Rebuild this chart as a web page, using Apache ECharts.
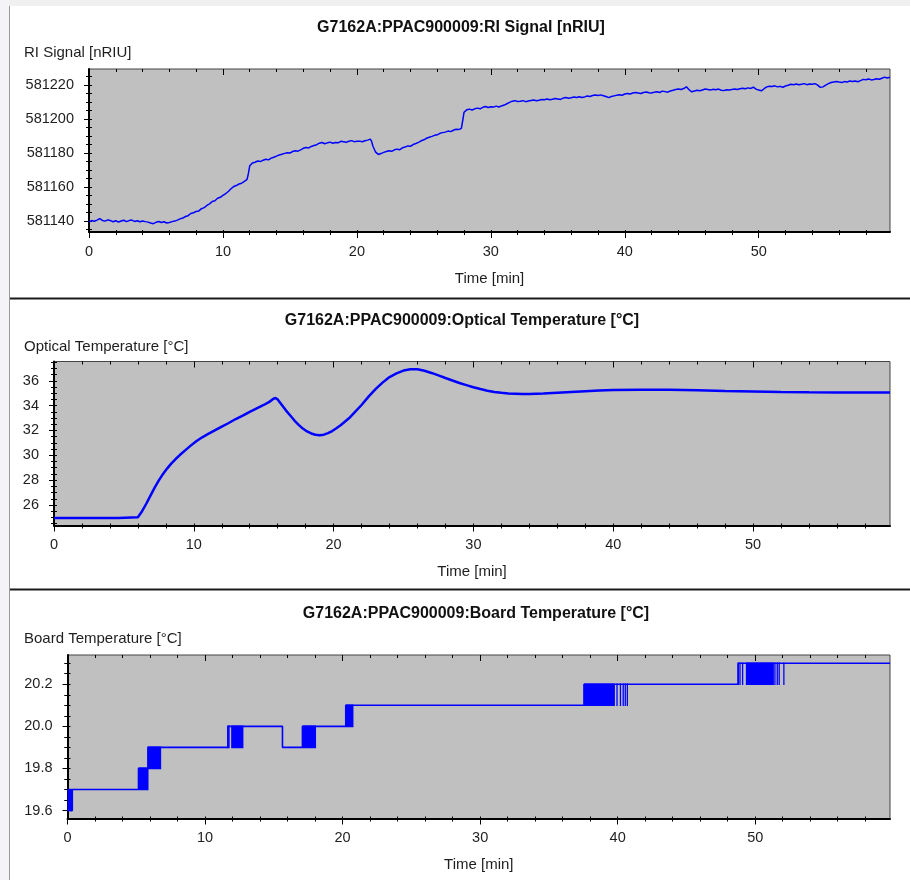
<!DOCTYPE html>
<html><head><meta charset="utf-8">
<script src="https://cdn.jsdelivr.net/npm/echarts@6/dist/echarts.min.js"></script>
<style>html,body{margin:0;padding:0;background:#fff}#c{width:910px;height:880px}</style>
</head><body><div id="c"></div>
<script>
// ---------- DATA ----------
const riSignal = [
[0.0,581139.5],[0.2,581140.3],[0.4,581139.9],[0.6,581140.6],[0.8,581141.5],[1.0,581140.4],[1.2,581140.0],[1.4,581140.7],[1.6,581140.3],[1.8,581139.6],
[2.0,581140.2],[2.2,581139.5],[2.4,581140.1],[2.6,581140.5],[2.8,581139.7],[3.0,581140.3],[3.2,581140.6],[3.4,581139.8],[3.6,581140.2],[3.8,581139.6],
[4.0,581140.1],[4.2,581139.7],[4.4,581139.4],[4.6,581138.9],[4.8,581138.5],[5.0,581139.3],[5.2,581139.8],[5.4,581139.2],[5.6,581139.6],[5.8,581138.9],
[6.0,581139.2],[6.2,581139.7],[6.4,581140.0],[6.6,581140.6],[6.8,581141.3],[7.0,581141.8],[7.2,581142.7],[7.4,581143.2],[7.6,581144.5],[7.8,581144.9],
[8.0,581145.7],[8.2,581146.0],[8.4,581147.3],[8.6,581147.9],[8.8,581149.2],[9.0,581150.1],[9.2,581151.5],[9.4,581152.0],[9.6,581153.4],[9.8,581154.0],
[10.0,581155.1],[10.2,581156.2],[10.4,581157.4],[10.6,581159.0],[10.8,581160.3],[11.0,581160.9],[11.2,581161.8],[11.4,581162.3],[11.6,581163.3],[11.8,581164.5],
[11.9,581168.0],[12.0,581172.5],[12.2,581174.2],[12.4,581174.6],[12.6,581175.3],[12.8,581175.0],[13.0,581175.8],[13.2,581176.4],[13.4,581176.0],[13.6,581177.0],
[13.8,581177.5],[14.0,581178.2],[14.2,581178.9],[14.4,581179.3],[14.6,581179.8],[14.8,581180.2],[15.0,581180.0],[15.2,581180.9],[15.4,581181.3],[15.6,581181.1],
[15.8,581181.9],[16.0,581182.8],[16.2,581183.3],[16.4,581183.0],[16.6,581183.9],[16.8,581184.4],[17.0,581184.9],[17.2,581185.8],[17.4,581186.2],[17.6,581185.5],
[17.8,581186.0],[18.0,581186.4],[18.2,581185.8],[18.4,581186.2],[18.6,581186.0],[18.8,581186.9],[19.0,581186.6],[19.2,581186.3],[19.4,581186.9],[19.6,581187.3],
[19.8,581186.7],[20.0,581186.9],[20.2,581187.0],[20.4,581186.6],[20.6,581187.2],[20.8,581187.6],[21.0,581188.2],[21.1,581186.8],[21.2,581184.0],[21.4,581180.5],
[21.6,581179.2],[21.8,581179.7],[22.0,581180.4],[22.2,581180.9],[22.4,581181.3],[22.6,581181.0],[22.8,581181.9],[23.0,581182.3],[23.2,581182.0],[23.4,581183.1],
[23.6,581183.5],[23.8,581184.2],[24.0,581184.0],[24.2,581185.0],[24.4,581185.6],[24.6,581186.3],[24.8,581187.2],[25.0,581187.8],[25.2,581188.7],[25.4,581189.3],
[25.6,581189.8],[25.8,581190.4],[26.0,581190.7],[26.2,581191.6],[26.4,581192.0],[26.6,581192.3],[26.8,581192.9],[27.0,581192.6],[27.2,581193.4],[27.4,581194.0],
[27.6,581193.8],[27.8,581194.5],[27.9,581199.0],[28.0,581204.0],[28.2,581205.4],[28.4,581205.8],[28.6,581205.3],[28.8,581206.0],[29.0,581206.4],[29.2,581206.0],
[29.4,581206.9],[29.6,581207.4],[29.8,581206.8],[30.0,581207.2],[30.2,581207.0],[30.4,581207.6],[30.6,581207.1],[30.8,581207.7],[31.0,581208.2],[31.2,581209.0],
[31.4,581209.8],[31.6,581210.5],[31.8,581210.8],[32.0,581210.3],[32.2,581210.4],[32.4,581210.8],[32.6,581210.2],[32.8,581210.6],[33.0,581210.9],[33.2,581211.2],
[33.4,581210.7],[33.6,581211.0],[33.8,581211.5],[34.0,581211.3],[34.2,581211.8],[34.4,581211.3],[34.6,581211.6],[34.8,581212.1],[35.0,581211.8],[35.2,581211.5],
[35.4,581212.3],[35.6,581212.6],[35.8,581212.2],[36.0,581212.5],[36.2,581212.9],[36.4,581212.6],[36.6,581213.1],[36.8,581212.7],[37.0,581213.0],[37.2,581213.5],
[37.4,581213.2],[37.6,581213.8],[37.8,581214.1],[38.0,581213.8],[38.2,581214.2],[38.4,581213.7],[38.6,581213.2],[38.8,581212.6],[39.0,581213.2],[39.2,581213.6],
[39.4,581214.0],[39.6,581214.3],[39.8,581214.0],[40.0,581214.7],[40.2,581215.0],[40.4,581214.7],[40.6,581215.3],[40.8,581215.6],[41.0,581215.3],[41.2,581215.0],
[41.4,581215.6],[41.6,581215.9],[41.8,581215.4],[42.0,581215.3],[42.2,581215.8],[42.4,581216.0],[42.6,581215.6],[42.8,581216.4],[43.0,581216.1],[43.2,581215.8],
[43.4,581216.5],[43.6,581216.9],[43.8,581217.4],[44.0,581217.7],[44.2,581217.4],[44.4,581217.9],[44.6,581218.9],[44.8,581217.2],[45.0,581216.0],[45.2,581216.5],
[45.4,581216.9],[45.6,581216.6],[45.8,581217.1],[46.0,581217.6],[46.2,581217.3],[46.4,581217.0],[46.6,581217.5],[46.8,581217.2],[47.0,581217.6],[47.2,581216.9],
[47.4,581216.7],[47.6,581217.2],[47.8,581217.0],[48.0,581217.4],[48.2,581217.7],[48.4,581217.3],[48.6,581217.8],[48.8,581218.1],[49.0,581217.8],[49.2,581218.3],
[49.4,581218.0],[49.6,581218.7],[49.8,581217.6],[50.0,581217.0],[50.2,581216.6],[50.4,581217.8],[50.6,581218.9],[50.8,581219.3],[51.0,581219.1],[51.2,581219.5],
[51.4,581218.9],[51.6,581219.2],[51.8,581218.7],[52.0,581219.4],[52.2,581219.9],[52.4,581220.4],[52.6,581220.1],[52.8,581220.6],[53.0,581220.2],[53.2,581220.5],
[53.4,581220.8],[53.6,581220.2],[53.8,581220.6],[54.0,581220.4],[54.2,581220.8],[54.4,581219.9],[54.6,581218.6],[54.8,581218.9],[55.0,581219.9],[55.2,581220.8],
[55.4,581221.5],[55.6,581221.8],[55.8,581222.1],[56.0,581221.7],[56.2,581221.5],[56.4,581222.0],[56.6,581221.8],[56.8,581222.3],[57.0,581222.0],[57.2,581222.4],
[57.4,581221.9],[57.6,581222.6],[57.8,581223.3],[58.0,581223.1],[58.2,581223.5],[58.4,581223.0],[58.6,581223.2],[58.8,581223.7],[59.0,581223.4],[59.2,581224.0],
[59.4,581224.6],[59.6,581224.1],[59.8,581224.5]
];
const opticalTemp = [
[0,24.95],[4.6,24.95],[4.65,25.0],[6.0,25.02],[6.3,25.5],[6.6,26.1],[6.9,26.75],[7.2,27.4],[7.5,27.98],[7.8,28.5],
[8.1,28.95],[8.4,29.35],[8.7,29.7],[9.0,30.02],[9.4,30.42],[9.8,30.8],[10.2,31.15],[10.6,31.45],[11.0,31.7],[11.5,32.0],
[12.0,32.3],[12.5,32.6],[13.0,32.92],[13.5,33.2],[14.0,33.5],[14.5,33.78],[15.0,34.05],[15.4,34.3],[15.7,34.55],[15.85,34.62],
[16.0,34.5],[16.3,34.05],[16.6,33.6],[16.9,33.2],[17.2,32.8],[17.5,32.45],[17.8,32.15],[18.1,31.92],[18.4,31.76],[18.7,31.66],
[19.0,31.62],[19.3,31.66],[19.6,31.78],[19.9,31.95],[20.2,32.18],[20.5,32.42],[20.8,32.7],[21.1,32.98],[21.5,33.45],[22.0,34.05],
[22.5,34.72],[23.0,35.33],[23.5,35.85],[24.0,36.3],[24.5,36.6],[25.0,36.82],[25.5,36.92],[26.0,36.92],[26.5,36.8],[27.0,36.63],
[27.5,36.43],[28.0,36.22],[28.5,36.02],[29.0,35.82],[29.5,35.65],[30.0,35.48],[30.5,35.33],[31.0,35.2],[31.5,35.1],[32.0,35.03],
[32.5,34.98],[33.0,34.96],[33.5,34.94],[34.0,34.94],[35.0,34.98],[36.0,35.04],[37.0,35.1],[38.0,35.16],[39.0,35.22],[40.0,35.25],
[42.0,35.27],[44.0,35.27],[46.0,35.24],[48.0,35.18],[50.0,35.14],[52.0,35.1],[54.0,35.07],[56.0,35.06],[58.0,35.05],[59.8,35.05]
];
const boardTemp = [
[0,19.6],[0.35,19.6],[0.35,19.7],[5.16,19.7],[5.16,19.8],[5.85,19.8],[5.85,19.9],[11.66,19.9],[11.66,20.0],[15.63,20.0],
[15.63,19.9],[17.08,19.9],[17.08,20.0],[20.23,20.0],[20.23,20.1],[37.55,20.1],[37.55,20.2],[48.76,20.2],[48.76,20.3],[59.8,20.3]
];
// dense toggling regions: [tStart, tEnd, low, high]
const boardBands = [
[0,0.35,19.6,19.7],[5.16,5.89,19.7,19.8],[5.82,6.81,19.8,19.9],[11.9,12.79,19.9,20.0],[17.08,18.07,19.9,20.0],
[20.23,20.79,20.0,20.1],[37.55,39.8,20.1,20.2],[49.32,51.36,20.2,20.3]
];
// isolated toggles: [t, low, high]
const boardToggles = [
[11.66,19.9,20.0],[11.74,19.9,20.0],[39.95,20.1,20.2],[40.2,20.1,20.2],[40.4,20.1,20.2],[40.55,20.1,20.2],[40.7,20.1,20.2],
[48.76,20.2,20.3],[48.89,20.2,20.3],[49.08,20.2,20.3],[51.43,20.2,20.3],[51.6,20.2,20.3],[51.74,20.2,20.3],[52.08,20.2,20.3]
];
const xMajor = [0,10,20,30,40,50];
const xMinor = [2,4,6,8,12,14,16,18,22,24,26,28,32,34,36,38,42,44,46,48,52,54,56,58];
const riMajor = [581140,581160,581180,581200,581220];
const riMinor = [581135,581145,581150,581155,581165,581170,581175,581185,581190,581195,581205,581210,581215,581225];
const optMajor = [26,28,30,32,34,36];
const optMinor = [24.5,25,25.5,26.5,27,27.5,28.5,29,29.5,30.5,31,31.5,32.5,33,33.5,34.5,35,35.5,36.5,37,37.5];
const boardMajor = [19.6,19.8,20.0,20.2];
const boardMinor = [19.65,19.7,19.75,19.85,19.9,19.95,20.05,20.1,20.15,20.25,20.3];
const titles = ['G7162A:PPAC900009:RI Signal [nRIU]','G7162A:PPAC900009:Optical Temperature [°C]','G7162A:PPAC900009:Board Temperature [°C]'];
const yNames = ['RI Signal [nRIU]','Optical Temperature [°C]','Board Temperature [°C]'];
const xName = 'Time [min]';

// ---------- LAYOUT ----------
const FONT = "'Liberation Sans', Arial, sans-serif";
const TXT = '#1e1e1e';
const panels = [
  {left:89, top:69, height:163, ymin:581133.6, ymax:581229.4, major:riMajor, minor:riMinor, fmt:v=>String(v), titleX:461, titleY:28, nameY:53},
  {left:54, top:361.5, height:164, ymin:24.35, ymax:37.55, major:optMajor, minor:optMinor, fmt:v=>String(v), titleX:462, titleY:321, nameY:347},
  {left:67.5, top:655, height:163.5, ymin:19.562, ymax:20.339, major:boardMajor, minor:boardMinor, fmt:v=>v.toFixed(1), titleX:476, titleY:614, nameY:639}
];
const XMAX = 59.8;
const grids = [], xAxes = [], yAxes = [];
const hid = {splitLine:{show:false}, axisLabel:{show:false}, axisLine:{show:false}, axisTick:{show:false}, minorTick:{show:false}};
const tk = (vals, len, inside, w) => ({show:true, customValues:vals, length:len, inside:inside, lineStyle:{color:'#000', width:w||1}});
panels.forEach((p, gi) => {
  grids.push({left:p.left, right:20, top:p.top, height:p.height, show:true, backgroundColor:'#c0c0c0', borderColor:'#444', borderWidth:1});
  const xb = {type:'value', gridIndex:gi, min:0, max:XMAX, ...hid};
  const xAll = xMajor.concat(xMinor);
  xAxes.push(
    {...xb, position:'bottom', axisLine:{show:true, onZero:false, lineStyle:{color:'#000', width:2}},
      axisTick:tk(xMajor, 6, false), axisLabel:{show:true, customValues:xMajor, margin:12, fontSize:14.5, color:TXT, fontFamily:FONT},
      name:xName, nameLocation:'middle', nameGap:39, nameTextStyle:{fontSize:15, color:TXT, fontFamily:FONT}},
    {...xb, position:'bottom', axisTick:tk(xMinor, 3, false)},
    {...xb, position:'bottom', axisTick:tk(xAll, 2, true)},
    {...xb, position:'top', axisTick:tk(xMajor, 6, true)},
    {...xb, position:'top', axisTick:tk(xMinor, 3, true)}
  );
  const yb = {type:'value', gridIndex:gi, min:p.ymin, max:p.ymax, ...hid};
  const yAll = p.major.concat(p.minor);
  yAxes.push(
    {...yb, position:'left', axisLine:{show:true, onZero:false, lineStyle:{color:'#000', width:2}},
      axisTick:tk(p.major, 4, false), axisLabel:{show:true, customValues:p.major, margin:15, fontSize:14.5, color:TXT, fontFamily:FONT, formatter:p.fmt}},
    {...yb, position:'left', axisTick:tk(p.minor, 3, false)},
    {...yb, position:'left', axisTick:tk(yAll, 3, true)},
    {...yb, position:'right', axisTick:tk(p.major, 5, true)},
    {...yb, position:'right', axisTick:tk(p.minor, 3, true)}
  );
});

const BLUE = '#0000ff';
const series = [
  {type:'line', xAxisIndex:0, yAxisIndex:0, data:riSignal, showSymbol:false, lineStyle:{color:BLUE, width:1.5}, clip:true},
  {type:'line', xAxisIndex:5, yAxisIndex:5, data:opticalTemp, showSymbol:false, lineStyle:{color:BLUE, width:2.5}, clip:true},
  {type:'line', xAxisIndex:10, yAxisIndex:10, data:boardTemp, showSymbol:false, lineStyle:{color:BLUE, width:1.6}, clip:true},
  {type:'custom', xAxisIndex:10, yAxisIndex:10, data:boardBands, encode:{x:[0,1], y:[2,3]}, clip:true,
    renderItem:(params, api) => {
      const a = api.coord([api.value(0), api.value(3)]);
      const b = api.coord([api.value(1), api.value(2)]);
      return {type:'rect', shape:{x:a[0], y:a[1]-0.8, width:b[0]-a[0], height:b[1]-a[1]+1.6}, style:{fill:BLUE}};
    }},
  {type:'custom', xAxisIndex:10, yAxisIndex:10, data:boardToggles, encode:{x:0, y:[1,2]}, clip:true,
    renderItem:(params, api) => {
      const a = api.coord([api.value(0), api.value(2)]);
      const b = api.coord([api.value(0), api.value(1)]);
      return {type:'rect', shape:{x:a[0]-0.6, y:a[1]-0.8, width:1.3, height:b[1]-a[1]+1.6}, style:{fill:BLUE}};
    }}
];

const graphic = [
  {type:'rect', silent:true, shape:{x:0, y:0, width:910, height:6}, style:{fill:'#f0f0f0'}},
  {type:'rect', silent:true, shape:{x:0, y:0, width:9, height:880}, style:{fill:'#f4f4f8'}},
  {type:'line', silent:true, shape:{x1:9.5, y1:6, x2:9.5, y2:880}, style:{stroke:'#9a9a9a', lineWidth:1}},
  {type:'line', silent:true, shape:{x1:10, y1:298.5, x2:910, y2:298.5}, style:{stroke:'#1a1a1a', lineWidth:2}},
  {type:'line', silent:true, shape:{x1:10, y1:589.5, x2:910, y2:589.5}, style:{stroke:'#1a1a1a', lineWidth:2}}
];
panels.forEach((p, i) => {
  graphic.push({type:'text', silent:true, x:p.titleX, y:p.titleY,
    style:{text:titles[i], font:'bold 16px ' + FONT, fill:'#111', align:'center', verticalAlign:'middle', textAlign:'center', textVerticalAlign:'middle'}});
  graphic.push({type:'text', silent:true, x:24, y:p.nameY,
    style:{text:yNames[i], font:'15px ' + FONT, fill:TXT, align:'left', verticalAlign:'middle', textAlign:'left', textVerticalAlign:'middle'}});
});

const chart = echarts.init(document.getElementById('c'), null, {renderer:'canvas'});
chart.setOption({
  backgroundColor:'#ffffff',
  animation:false,
  grid:grids, xAxis:xAxes, yAxis:yAxes, series:series, graphic:graphic
});
</script></body></html>
